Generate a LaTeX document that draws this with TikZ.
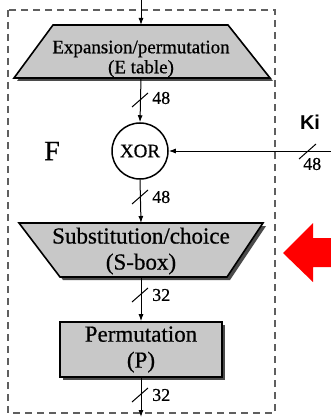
\documentclass[tikz,border=0pt]{standalone}
\usepackage{fontspec}
\setmainfont[FakeBold=0.6]{Liberation Serif}
\newfontfamily\kifont{Liberation Sans}
\usetikzlibrary{arrows.meta,shadows}
\definecolor{boxgray}{RGB}{200,200,200}
\definecolor{dashgray}{RGB}{95,95,95}
\definecolor{shadowgray}{RGB}{75,75,75}
\begin{document}
\begin{tikzpicture}[x=1pt,y=-1pt,
  blockshape/.style={draw=black, line width=1.6pt, fill=boxgray, line join=miter,
    drop shadow={shadow xshift=3pt, shadow yshift=-3pt, fill=shadowgray, opacity=1}},
  flow/.style={draw=black, line width=1pt, -{Latex[length=7pt,width=5pt]}},
  slashmark/.style={draw=black, line width=1pt},
  buslabel/.style={font=\fontsize{18}{18}\selectfont, anchor=west, inner sep=0pt},
  etext/.style={align=center, inner sep=0pt, font=\fontsize{19}{20}\selectfont},
  btext/.style={align=center, inner sep=0pt, font=\fontsize{23}{26}\selectfont},
  frame/.style={draw=dashgray, line width=1.3pt, dash pattern=on 7pt off 5pt}
]
\useasboundingbox (0,0) rectangle (331,417);

% dashed frame of F
\draw[frame] (8,10) rectangle (275,413);

% expansion / permutation trapezoid
\path[blockshape] (53,25) -- (228,25) -- (270,78) -- (14,78) -- cycle;
\coordinate (Etop) at (141,25);
\coordinate (Ebot) at (141,78);
\node[etext] (E) at (141,59) {Expansion/permutation\\(E table)};

% XOR
\node[circle, draw=black, line width=1.5pt, fill=white, minimum size=56pt, inner sep=0pt,
      font=\fontsize{19}{19}\selectfont] (X) at (140,151) {XOR};

% S-box trapezoid
\path[blockshape] (19,223) -- (263,223) -- (227,277) -- (60,277) -- cycle;
\coordinate (Stop) at (141,223);
\coordinate (Sbot) at (141,277);
\node[btext] (S) at (141,251) {Substitution/choice\\(S-box)};

% Permutation box
\node[blockshape, rectangle, minimum width=162pt, minimum height=55pt, inner sep=0pt,
      btext] (P) at (141,349.5) {Permutation\\(P)};

% labels
\node[font=\fontsize{28}{28}\selectfont, inner sep=0pt] (F) at (52,151) {F};
\node[font=\kifont\bfseries\fontsize{20}{20}\selectfont, inner sep=0pt] (Ki) at (310,122) {Ki};

% connectors
\coordinate (in0) at (141,0);
\coordinate (out0) at (141,417);
\coordinate (kin) at (331,151);
\draw[flow] (in0) -- (Etop);
\draw[flow] (Ebot) -- (X.north);
\draw[flow] (X.south) -- (Stop);
\draw[flow] (Sbot) -- (P.north);
\draw[flow] (P.south) -- (out0);
\draw[flow] (kin) -- (X.east);

% bus width marks
\draw[slashmark] (132,107) -- (148,93);
\node[buslabel] (w1) at (152,98) {48};
\draw[slashmark] (132,204) -- (148,190);
\node[buslabel] (w2) at (152,197) {48};
\draw[slashmark] (132,302) -- (148,288);
\node[buslabel] (w3) at (152,295) {32};
\draw[slashmark] (132,402) -- (148,388);
\node[buslabel] (w4) at (152,395) {32};
\draw[slashmark] (299,159) -- (316,144);
\node[buslabel] (w5) at (303,164) {48};

% red pointer arrow
\fill[red] (283,253) -- (313,223) -- (313,238) -- (331,238) -- (331,267) -- (313,267) -- (313,282) -- cycle;
\end{tikzpicture}
\end{document}
